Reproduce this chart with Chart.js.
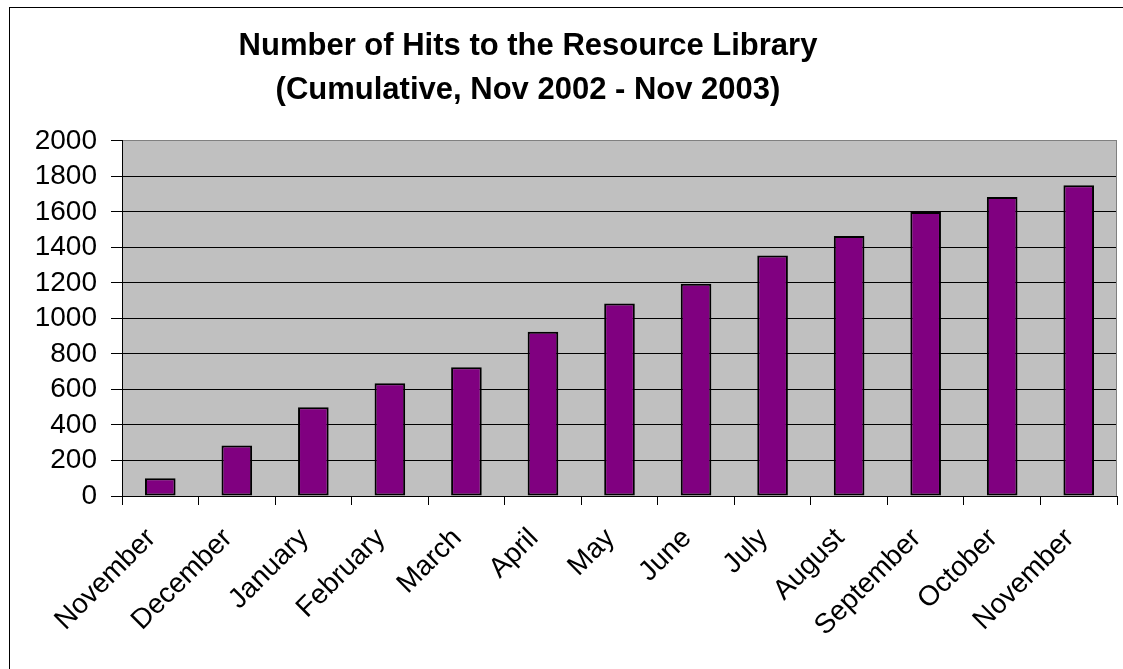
<!DOCTYPE html>
<html>
<head>
<meta charset="utf-8">
<title>Number of Hits to the Resource Library</title>
<script src="https://cdn.jsdelivr.net/npm/chart.js@4.4.0/dist/chart.umd.min.js"></script>
<style>
  html, body { margin: 0; padding: 0; background: #fff; }
  #wrap { width: 1123px; height: 669px; position: relative; }
</style>
</head>
<body>
<div id="wrap"><canvas id="hitsChart"></canvas></div>
<script>
// data
const months = ['November', 'December', 'January', 'February', 'March', 'April', 'May',
                'June', 'July', 'August', 'September', 'October', 'November'];
const hits = [100, 285, 500, 635, 725, 925, 1085, 1195, 1355, 1465, 1600, 1685, 1750];
const yTicks = [0, 200, 400, 600, 800, 1000, 1200, 1400, 1600, 1800, 2000];
const titleLines = ['Number of Hits to the Resource Library', '(Cumulative, Nov 2002 - Nov 2003)'];

const FONT = 'Arial, "Liberation Sans", sans-serif';

// grey plot background, grey right edge and the outer frame
const excelLook = {
  id: 'excelLook',
  beforeDraw(chart) {
    const { ctx, chartArea: a } = chart;
    ctx.save();
    ctx.fillStyle = '#c0c0c0';
    ctx.fillRect(a.left, a.top, a.right - a.left, a.bottom - a.top);
    ctx.strokeStyle = '#000';
    ctx.lineWidth = 1;
    ctx.strokeRect(9.5, 7.5, 1300, 800);
    ctx.restore();
  },
  afterDraw(chart) {
    const { ctx, chartArea: a } = chart;
    ctx.save();
    ctx.strokeStyle = '#808080';
    ctx.lineWidth = 1;
    ctx.beginPath();
    ctx.moveTo(Math.round(a.right) - 0.5, a.top);
    ctx.lineTo(Math.round(a.right) - 0.5, a.bottom);
    ctx.stroke();
    ctx.restore();
  },
  afterLayout(chart) {
    // title in the original is centred a bit left of the canvas middle
    if (chart.titleBlock) {
      chart.titleBlock.left = 0;
      chart.titleBlock.right = 1056;
    }
  }
};

const ctx = document.getElementById('hitsChart').getContext('2d');
const chart = new Chart(ctx, {
  type: 'bar',
  data: {
    labels: months,
    datasets: [{
      label: 'Hits',
      data: hits,
      backgroundColor: '#800080',
      borderColor: '#000000',
      borderWidth: 2,
      borderSkipped: false,
      barPercentage: 0.4,
      categoryPercentage: 1.0
    }]
  },
  options: {
    responsive: true,
    maintainAspectRatio: false,
    animation: false,
    layout: { padding: { left: 0, right: 6, top: 0, bottom: 0 } },
    plugins: {
      legend: { display: false },
      tooltip: { enabled: false },
      title: {
        display: true,
        text: titleLines,
        color: '#000',
        font: { family: FONT, size: 31, weight: 'bold', lineHeight: 1.435 },
        padding: { top: 24, bottom: 28 }
      }
    },
    scales: {
      x: {
        grid: {
          offset: true,
          drawOnChartArea: false,
          drawTicks: true,
          tickLength: 9,
          color: '#000',
          tickColor: '#000'
        },
        border: { display: true, color: '#000', width: 1 },
        ticks: {
          color: '#000',
          font: { family: FONT, size: 28 },
          maxRotation: 45,
          minRotation: 45,
          autoSkip: false,
          padding: 17,
          labelOffset: -9
        },
        afterFit(scale) { scale.height = 173; }
      },
      y: {
        min: 0,
        max: 2000,
        afterBuildTicks(scale) {
          scale.ticks = yTicks.map(v => ({ value: v }));
        },
        grid: {
          color: c => (c.tick && c.tick.value === 2000 ? '#808080' : '#000'),
          tickColor: '#000',
          tickLength: 11,
          lineWidth: 1
        },
        border: { display: true, color: '#000', width: 1 },
        ticks: {
          color: '#000',
          font: { family: FONT, size: 28 },
          padding: 14,
          autoSkip: false,
          callback: v => String(v)
        },
        afterFit(scale) { scale.width = 122; }
      }
    }
  },
  plugins: [excelLook]
});
</script>
</body>
</html>
